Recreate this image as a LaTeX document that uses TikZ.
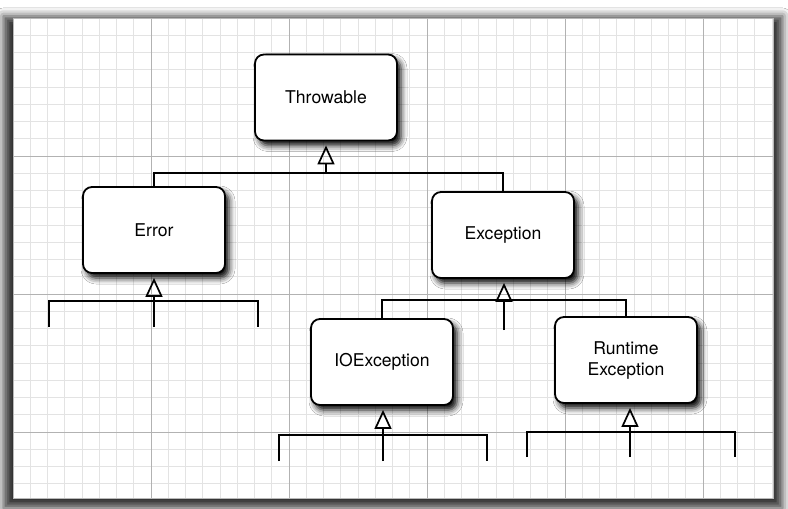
\documentclass[tikz,border=0pt]{standalone}
\usepackage{fontspec}
\setmainfont{TeX Gyre Heros}
\usetikzlibrary{arrows.meta,shadows.blur}
\begin{document}
\begin{tikzpicture}[x=1pt,y=-1pt,
  cls/.style={draw=black, line width=1.8pt, fill=white, rounded corners=9pt,
    minimum width=142pt, minimum height=86pt, inner sep=0pt,
    font=\fontsize{17.6}{21}\selectfont, align=center,
    blur shadow={shadow xshift=4pt, shadow yshift=-5pt, shadow blur radius=6pt, shadow opacity=100}},
  conn/.style={line width=1.8pt},
  inh/.style={conn, -{Triangle[open, width=17pt, length=19pt, line width=1.7pt]}, shorten >=4pt},
  minorgrid/.style={gray!22, line width=0.7pt},
  majorgrid/.style={gray!60, line width=0.9pt},
  sheet/.style={fill=white, draw=gray!50, line width=0.6pt,
    blur shadow={shadow xshift=0pt, shadow yshift=-4pt, shadow scale=1.025, shadow blur radius=8pt, shadow opacity=80}}
]
\useasboundingbox (0,0) rectangle (788,509);
\fill[white] (0,0) rectangle (788,509);
% sheet with grid
\path[sheet] (13,18) rectangle (773,498);
\foreach \i in {1,...,44} \draw[minorgrid] (13+\i*17.25,18) -- (13+\i*17.25,498);
\foreach \j in {1,...,27} \draw[minorgrid] (13,18+\j*17.25) -- (773,18+\j*17.25);
\foreach \i in {1,...,5} \draw[majorgrid] (13+\i*138,18) -- (13+\i*138,498);
\foreach \j in {1,...,3} \draw[majorgrid] (13,18+\j*138) -- (773,18+\j*138);
\draw[gray!55, line width=0.6pt] (13,18) rectangle (773,498);

% classes
\node[cls] (thr) at (326,97.5) {Throwable};
\node[cls] (err) at (154,230) {Error};
\node[cls] (exc) at (503,235) {Exception};
\node[cls] (ioe) at (382,362) {IOException};
\node[cls] (rte) at (626,360) {Runtime\\Exception};

% Throwable hierarchy
\coordinate (b1) at (326,173);
\draw[conn] (err.north) |- (b1) -| (exc.north);
\draw[inh] (b1) -- (thr.south);

% Exception hierarchy
\coordinate (x1) at (504,300);
\coordinate (x2) at (504,330);
\draw[conn] (ioe.north) |- (x1) -| (rte.north);
\draw[inh] (x2) -- (x2 |- exc.south);

% below Error
\coordinate (e1) at (49,327);
\coordinate (e2) at (258,327);
\coordinate (e3) at (154,327);
\draw[conn] (e1) -- ++(0,-26) -| (e2);
\draw[inh] (e3) -- (e3 |- err.south);

% below IOException
\coordinate (i1) at (279,461);
\coordinate (i2) at (487,461);
\coordinate (i3) at (383,461);
\draw[conn] (i1) -- ++(0,-26) -| (i2);
\draw[inh] (i3) -- (i3 |- ioe.south);

% below RuntimeException
\coordinate (r1) at (527,457);
\coordinate (r2) at (735,457);
\coordinate (r3) at (630,457);
\draw[conn] (r1) -- ++(0,-25) -| (r2);
\draw[inh] (r3) -- (r3 |- rte.south);
\end{tikzpicture}
\end{document}
